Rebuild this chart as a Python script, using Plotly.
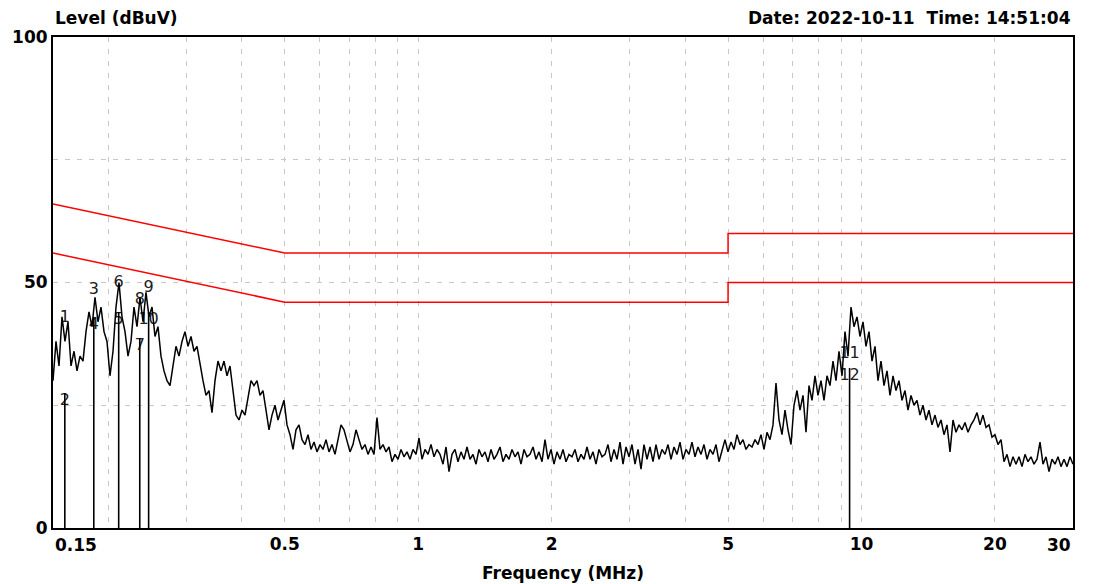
import numpy as np
import plotly.graph_objects as go

level_a = [30, 38, 33, 43, 38, 42, 33, 36, 32, 35,
           34, 40, 44, 41, 47, 42, 45, 40, 38, 31,
           36, 45, 50, 43, 40, 35, 38, 45, 41, 47,
           42, 48, 43]
level_b = [45, 39, 41, 35, 32, 30, 29, 33, 37, 35,
           38, 40, 37, 39, 36, 37, 33, 30, 27, 28,
           23.5, 30, 34, 32, 34, 31, 33, 28, 23, 22,
           24, 23, 27, 30, 29, 30, 27, 28, 24, 20,
           23, 25, 22, 24, 26, 21, 19, 16, 20, 21,
           18, 17, 19, 16, 17.5, 15.5, 17, 16, 18, 15.5,
           17, 15, 18, 21, 20, 18, 15.5, 17, 20, 18,
           16, 17, 15, 16.5, 15, 22.5, 16, 17, 15.5, 16.5,
           13.5, 15, 14, 16, 14.5, 15.5, 14, 16, 15, 18.3,
           14, 16, 15, 17, 14.5, 16, 15, 13, 16.5, 11.5,
           15]
level_c = [16, 13.5, 15.5, 14, 16.5, 14, 15, 13, 16, 14.5,
           15.5, 13.5, 16, 14, 15, 16.5, 13.5, 15, 14, 16,
           14.5, 15.5, 13, 16, 14.5, 15, 16.5, 14, 15.5, 13.5,
           18, 14, 16, 13, 15.5, 14, 16, 13.5, 15, 14.5,
           16, 13.5, 15, 14, 16.5, 14, 15.5, 13, 16, 14.5,
           15, 17, 13.5, 16, 14, 17.5, 13, 16.5, 14.5, 17,
           13, 16, 12, 17, 14, 16.5, 13.5, 17, 14, 16,
           15, 17, 14, 16.5, 15, 17.5, 14, 16, 15, 17.5,
           14.5, 16.5]
level_d = [15, 17, 14, 16, 15, 17, 13.5, 16, 18, 15.5,
           17.5, 16, 19, 17, 18, 16, 17, 16.5, 18, 17,
           19, 16, 19.5, 18, 21, 29.5, 22, 19, 24, 20,
           17, 25, 28, 24, 27, 19.5, 29, 26, 31, 27,
           30, 26, 31, 29, 34, 30, 36, 31, 40, 35,
           45, 41, 43, 39, 42, 37, 40, 34, 37, 30,
           34, 29, 32, 27, 31, 28, 30, 26, 28, 24,
           27, 25, 26, 23, 25, 22, 24, 21, 23, 20.5,
           22, 19, 21, 15.5, 22, 19.5, 21, 20, 21.5, 19.5,
           21, 22, 23.5, 21, 23, 20.5, 21, 18.5, 19, 17,
           18, 13.5, 15, 12.5, 14.5, 13, 14.5, 12.5, 15, 13.5,
           14.5, 13, 14, 17.5, 13, 14.5, 11.5, 14, 13, 14.5,
           12.5, 14, 12.5, 14.5, 13]
level = level_a + level_b + level_c + level_d
freq = np.geomspace(0.15, 30.0, len(level))  # sweep frequency grid (MHz)

# ---- limit lines ----
limit_freq = [0.15, 0.5, 5, 5, 30]
limit_qp = [66, 56, 56, 60, 60]
limit_av = [56, 46, 46, 50, 50]

# ---- markers ----
marker_freq = [0.1595, 0.1595, 0.1854, 0.1854, 0.211, 0.211,
               0.2354, 0.2354, 0.2465, 0.2465, 9.4, 9.4]
marker_level = [44.4, 27.5, 50.1, 43.0, 44.0, 51.5,
                38.7, 48.0, 50.5, 44.0, 37.0, 32.6]
marker_label = [str(i) for i in range(1, 13)]

# ---- axis ticks ----
x_grid = [0.2, 0.3, 0.4, 0.5, 0.6, 0.7, 0.8, 0.9, 1, 2, 3, 4, 5, 6, 7, 8, 9, 10, 20]
x_labelled = {0.5: "0.5", 1: "1", 2: "2", 5: "5", 10: "10", 20: "20"}
y_ticks = [0, 25, 50, 75, 100]
y_labels = ["0", "", "50", "", "100"]

FONT = "DejaVu Sans"

fig = go.Figure()

# marker labels (drawn first so the spectrum covers them, as in the original)
fig.add_trace(go.Scatter(x=marker_freq, y=marker_level, mode="text",
                         text=marker_label, textposition="bottom center",
                         textfont=dict(family=FONT, size=16, color="#202020"),
                         showlegend=False))

# marker stems
stem_x, stem_y = [], []
for i in range(0, len(marker_freq), 2):
    f = marker_freq[i]
    top = min(marker_level[i], marker_level[i + 1])
    stem_x += [f, f, None]
    stem_y += [0, top, None]
fig.add_trace(go.Scatter(x=stem_x, y=stem_y, mode="lines",
                         line=dict(color="black", width=1.6),
                         hoverinfo="skip", showlegend=False))

# spectrum
fig.add_trace(go.Scatter(x=freq, y=level, mode="lines",
                         line=dict(color="black", width=1.5),
                         showlegend=False))

# limits
for lim in (limit_qp, limit_av):
    fig.add_trace(go.Scatter(x=limit_freq, y=lim, mode="lines",
                             line=dict(color="#ff0000", width=1.5),
                             showlegend=False))

fig.update_xaxes(type="log", range=[np.log10(0.15), np.log10(30)],
                 tickvals=x_grid,
                 ticktext=["<b>%s</b>" % x_labelled[v] if v in x_labelled else "" for v in x_grid],
                 tickfont=dict(family=FONT, size=17, color="black"),
                 showgrid=True, gridcolor="#c8c8c8", griddash="5px,7px", gridwidth=1,
                 showline=True, linecolor="black", linewidth=2, mirror=True,
                 ticks="", zeroline=False)
fig.update_yaxes(range=[0, 100], tickvals=y_ticks,
                 ticktext=["<b>%s</b>" % t if t else "" for t in y_labels],
                 tickfont=dict(family=FONT, size=17, color="black"),
                 showgrid=True, gridcolor="#c8c8c8", griddash="5px,7px", gridwidth=1,
                 showline=True, linecolor="black", linewidth=2, mirror=True,
                 ticks="", zeroline=False)

anno_font = dict(family=FONT, size=17, color="black")
fig.add_annotation(x=0, y=1.0387, xref="paper", yref="paper", xanchor="left",
                   yanchor="middle", text="<b>Level (dBuV)</b>", showarrow=False,
                   font=anno_font)
fig.add_annotation(x=1, y=1.0387, xref="paper", yref="paper", xanchor="right",
                   yanchor="middle", text="<b>Date: 2022-10-11  Time: 14:51:04</b>",
                   showarrow=False, font=anno_font)
fig.add_annotation(x=0.5, y=-0.0916, xref="paper", yref="paper", xanchor="center",
                   yanchor="middle", text="<b>Frequency (MHz)</b>", showarrow=False,
                   font=anno_font)
fig.add_annotation(x=0, y=-0.035, xref="paper", yref="paper", xanchor="left",
                   yanchor="middle", text="<b>0.15</b>", showarrow=False, font=anno_font)
fig.add_annotation(x=1, y=-0.035, xref="paper", yref="paper", xanchor="right",
                   yanchor="middle", text="<b>30</b>", showarrow=False, font=anno_font)

fig.update_layout(width=1093, height=584,
                  margin=dict(l=53, r=20, t=37, b=56),
                  paper_bgcolor="white", plot_bgcolor="white",
                  showlegend=False)

fig.write_html("out.html")
